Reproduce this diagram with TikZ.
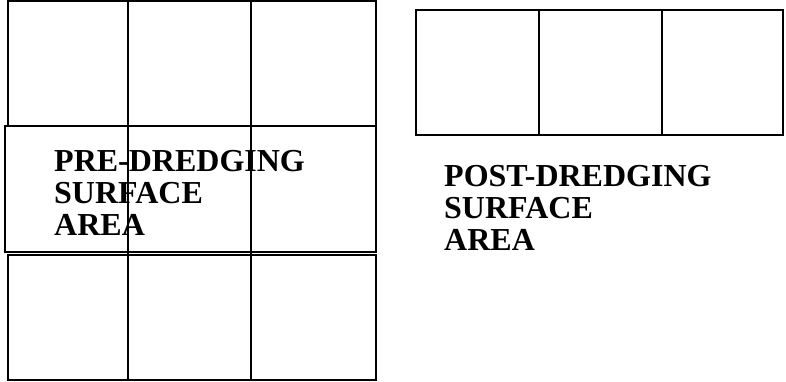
\documentclass[tikz,border=0pt]{standalone}
\usepackage{fontspec}
\setmainfont{Liberation Serif}
\begin{document}
\begin{tikzpicture}[x=1pt,y=-1pt,
  gridline/.style={draw=black,line width=2.2pt},
  label/.style={anchor=base west,align=left,inner sep=0pt,
    font=\bfseries\fontsize{32}{32}\selectfont}]
\useasboundingbox (0,0) rectangle (786,381);
% pre-dredging grid
\draw[gridline] (8,1) rectangle (376,126);
\draw[gridline] (5,126) rectangle (376,252);
\draw[gridline] (8,255) rectangle (376,380);
\draw[gridline] (128,1) -- (128,380);
\draw[gridline] (251,1) -- (251,380);
% post-dredging row
\draw[gridline] (416,10) rectangle (783,135);
\draw[gridline] (539,10) -- (539,135);
\draw[gridline] (662,10) -- (662,135);
\node[label] (pre) at (54,235) {PRE-DREDGING\\SURFACE\\AREA};
\node[label] (post) at (444,250) {POST-DREDGING\\SURFACE\\AREA};
\end{tikzpicture}
\end{document}
